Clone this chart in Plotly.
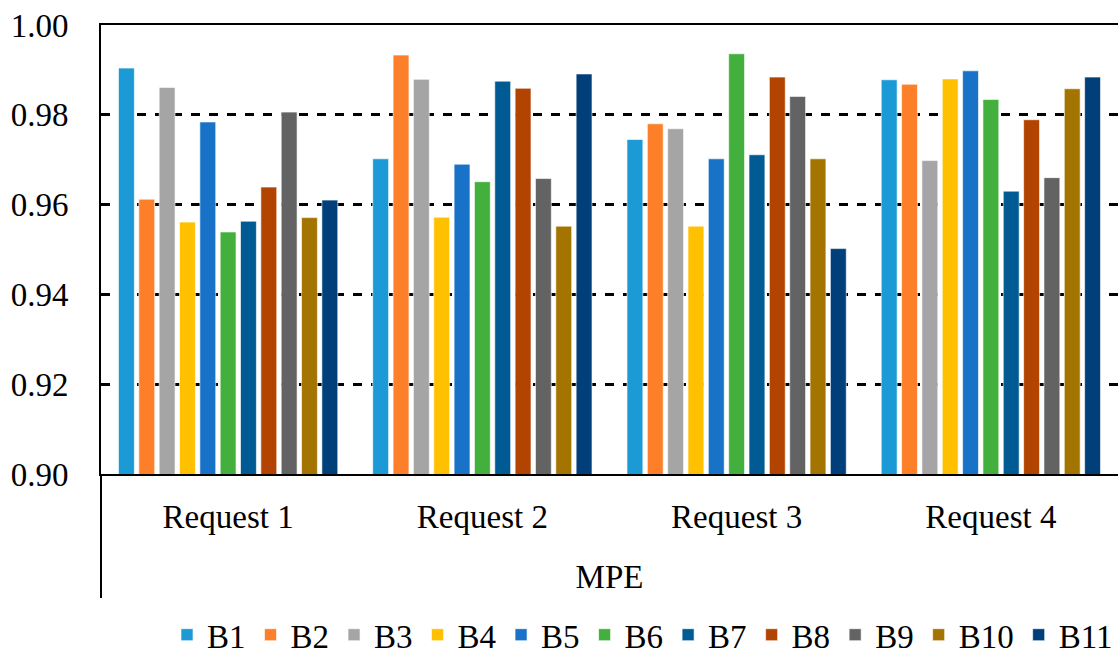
import plotly.graph_objects as go

categories = ["Request 1", "Request 2", "Request 3", "Request 4"]
series_names = ["B1", "B2", "B3", "B4", "B5", "B6", "B7", "B8", "B9", "B10", "B11"]

B1 = [0.9904, 0.9702, 0.9745, 0.9878]
B2 = [0.9612, 0.9933, 0.9780, 0.9868]
B3 = [0.9861, 0.9879, 0.9769, 0.9698]
B4 = [0.9561, 0.9572, 0.9552, 0.9880]
B5 = [0.9784, 0.9690, 0.9702, 0.9898]
B6 = [0.9539, 0.9651, 0.9936, 0.9834]
B7 = [0.9563, 0.9875, 0.9711, 0.9630]
B8 = [0.9639, 0.9859, 0.9884, 0.9789]
B9 = [0.9806, 0.9658, 0.9841, 0.9660]
B10 = [0.9571, 0.9552, 0.9702, 0.9858]
B11 = [0.9610, 0.9891, 0.9502, 0.9884]

series_values = [B1, B2, B3, B4, B5, B6, B7, B8, B9, B10, B11]
colors = ["#1B9AD6", "#FE7F2A", "#A5A5A5", "#FFC000", "#1872C8", "#43B03E",
          "#005B94", "#B34300", "#636363", "#A47400", "#003F7A"]

y_ticks = [0.90, 0.92, 0.94, 0.96, 0.98, 1.00]
group_title = "MPE"

FONT = "Liberation Serif"

fig = go.Figure()
for name, vals, col in zip(series_names, series_values, colors):
    fig.add_trace(go.Bar(
        x=categories, y=vals, name=name,
        marker=dict(color=col, line=dict(color="rgba(255,255,255,0.6)", width=1)),
    ))

fig.update_layout(
    width=1118, height=655,
    margin=dict(l=101, r=0, t=25, b=181, autoexpand=False),
    paper_bgcolor="white", plot_bgcolor="white",
    barmode="group", bargap=0.12, bargroupgap=0.22,
    font=dict(family=FONT, size=33, color="black"),
    showlegend=True,
    legend=dict(orientation="h", x=1.0, xanchor="right", y=-0.358, yanchor="middle",
                font=dict(family=FONT, size=33, color="black"),
                itemwidth=30, tracegroupgap=0, bgcolor="rgba(0,0,0,0)"),
)

fig.update_xaxes(
    showline=True, linecolor="black", linewidth=2, mirror=True, automargin=False,
    showgrid=False, ticks="", ticklabelstandoff=12,
    tickfont=dict(family=FONT, size=33, color="black"),
    title=dict(text=group_title, font=dict(family=FONT, size=33, color="black"), standoff=31),
)
fig.update_yaxes(
    range=[0.90, 1.00], tickvals=y_ticks, tickformat=".2f", automargin=False,
    showline=True, linecolor="black", linewidth=2, mirror=False,
    showgrid=True, gridcolor="black", gridwidth=2.5, griddash="dash",
    zeroline=False, ticks="", ticklabelstandoff=24,
    tickfont=dict(family=FONT, size=33, color="black"),
)

fig.add_shape(type="line", xref="paper", yref="paper", x0=0, x1=0, y0=0, y1=-0.276,
              line=dict(color="black", width=2))

fig.write_html("out.html", config={"displayModeBar": False},
               post_script="document.body.style.margin='0';")
